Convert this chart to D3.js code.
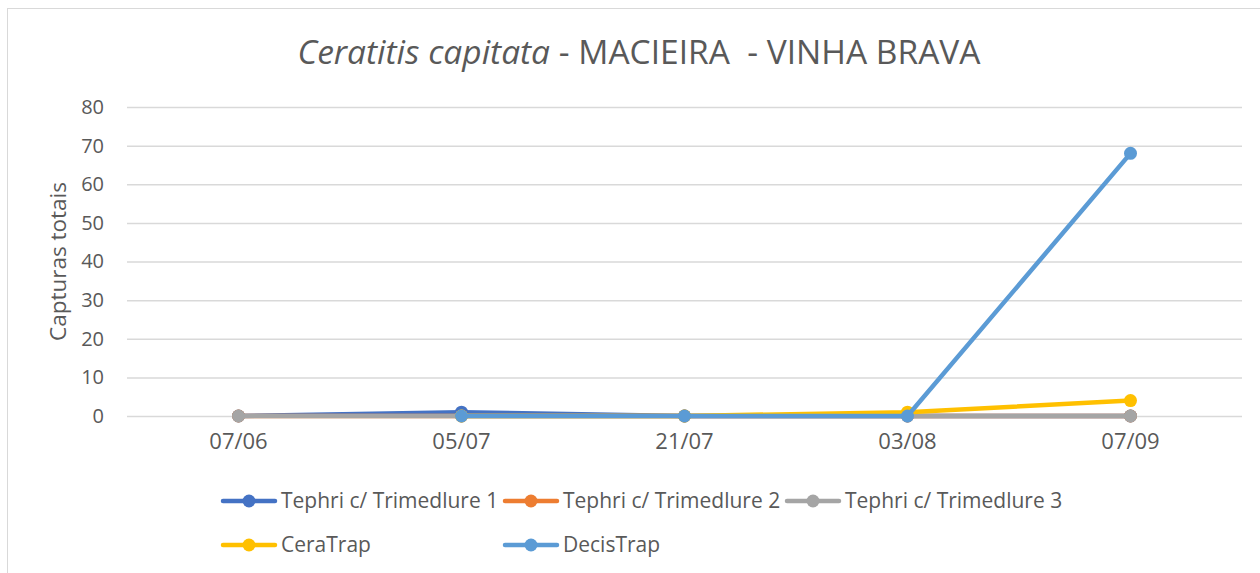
<!DOCTYPE html>
<html>
<head>
<meta charset="utf-8">
<script src="https://cdn.jsdelivr.net/npm/d3@7"></script>
<style>
  body { margin: 0; background: #fff; }
  text { font-family: "Open Sans", sans-serif; fill: #595959; }
</style>
</head>
<body>
<div id="container"></div>
<script>
const dates = ["07/06", "05/07", "21/07", "03/08", "07/09"];
const yTicks = [0, 10, 20, 30, 40, 50, 60, 70, 80];

const seriesNames = [
  "Tephri c/ Trimedlure 1",
  "Tephri c/ Trimedlure 2",
  "Tephri c/ Trimedlure 3",
  "CeraTrap",
  "DecisTrap"
];
const tephri1 = [0, 1, 0, 0, 0];
const tephri2 = [0, 0, 0, 0, 0];
const tephri3 = [0, 0, 0, 0, 0];
const ceraTrap = [null, 0, 0, 1, 4];
const decisTrap = [null, 0, 0, 0, 68];

const colors = ["#4472C4", "#ED7D31", "#A5A5A5", "#FFC000", "#5B9BD5"];

const series = [tephri1, tephri2, tephri3, ceraTrap, decisTrap].map((values, i) => ({
  name: seriesNames[i],
  color: colors[i],
  values
}));

const width = 1260;
const height = 573;
const margin = { top: 107, right: 18, bottom: 157, left: 127 };

const svg = d3
  .select("#container")
  .append("svg")
  .attr("width", width)
  .attr("height", height);

// chart border
svg
  .append("rect")
  .attr("x", 7.5)
  .attr("y", 8.5)
  .attr("width", width)
  .attr("height", height)
  .attr("fill", "none")
  .attr("stroke", "#d9d9d9");

const x = d3
  .scaleBand()
  .domain(dates)
  .range([margin.left, width - margin.right]);

const y = d3
  .scaleLinear()
  .domain([0, 80])
  .range([height - margin.bottom, margin.top]);

// title
const title = svg
  .append("text")
  .attr("x", 639)
  .attr("y", 64)
  .attr("text-anchor", "middle")
  .style("white-space", "pre")
  .style("font-size", "33.5px");
title.append("tspan").style("font-style", "italic").text("Ceratitis capitata");
title.append("tspan").text(" - MACIEIRA  - VINHA BRAVA");

// gridlines + y axis
const yAxis = d3
  .axisLeft(y)
  .tickValues(yTicks)
  .tickSize(-(width - margin.left - margin.right))
  .tickPadding(23);

svg
  .append("g")
  .attr("transform", `translate(${margin.left},0)`)
  .call(yAxis)
  .call((g) => g.select(".domain").remove())
  .call((g) => g.selectAll("line").attr("stroke", "#d9d9d9").attr("stroke-width", 1.5))
  .call((g) => g.selectAll("text").style("font-size", "20px").attr("fill", "#595959"));

// x axis labels
const xAxis = d3.axisBottom(x).tickSize(0).tickPadding(17);
svg
  .append("g")
  .attr("transform", `translate(0,${y(0)})`)
  .call(xAxis)
  .call((g) => g.select(".domain").remove())
  .call((g) => g.selectAll("text").style("font-size", "22px").attr("fill", "#595959"));

// y axis title
svg
  .append("text")
  .attr("transform", `translate(66,${(y(0) + y(80)) / 2}) rotate(-90)`)
  .attr("text-anchor", "middle")
  .style("font-size", "22.5px")
  .text("Capturas totais");

const line = d3
  .line()
  .defined((d) => d != null)
  .x((d, i) => x(dates[i]) + x.bandwidth() / 2)
  .y((d) => y(d));

const plot = svg.append("g");

series.forEach((s) => {
  const g = plot.append("g");
  g.append("path")
    .datum(s.values)
    .attr("fill", "none")
    .attr("stroke", s.color)
    .attr("stroke-width", 4.5)
    .attr("stroke-linecap", "round")
    .attr("stroke-linejoin", "round")
    .attr("d", line);
  g.selectAll("circle")
    .data(s.values.map((v, i) => ({ v, i })).filter((d) => d.v != null))
    .enter()
    .append("circle")
    .attr("cx", (d) => x(dates[d.i]) + x.bandwidth() / 2)
    .attr("cy", (d) => y(d.v))
    .attr("r", 6.5)
    .attr("fill", s.color);
});

// legend
const legendCols = [221, 503, 785];
const legendRows = [501, 545];

series.forEach((s, i) => {
  const lx = legendCols[i % 3];
  const ly = legendRows[Math.floor(i / 3)];
  const g = svg.append("g").attr("transform", `translate(${lx},${ly})`);
  g.append("line")
    .attr("x1", 2)
    .attr("x2", 54)
    .attr("stroke", s.color)
    .attr("stroke-width", 4.5)
    .attr("stroke-linecap", "round");
  g.append("circle").attr("cx", 28).attr("r", 6.5).attr("fill", s.color);
  g.append("text")
    .attr("x", 60)
    .attr("dy", "0.35em")
    .style("font-size", "21px")
    .text(s.name);
});
</script>
</body>
</html>
